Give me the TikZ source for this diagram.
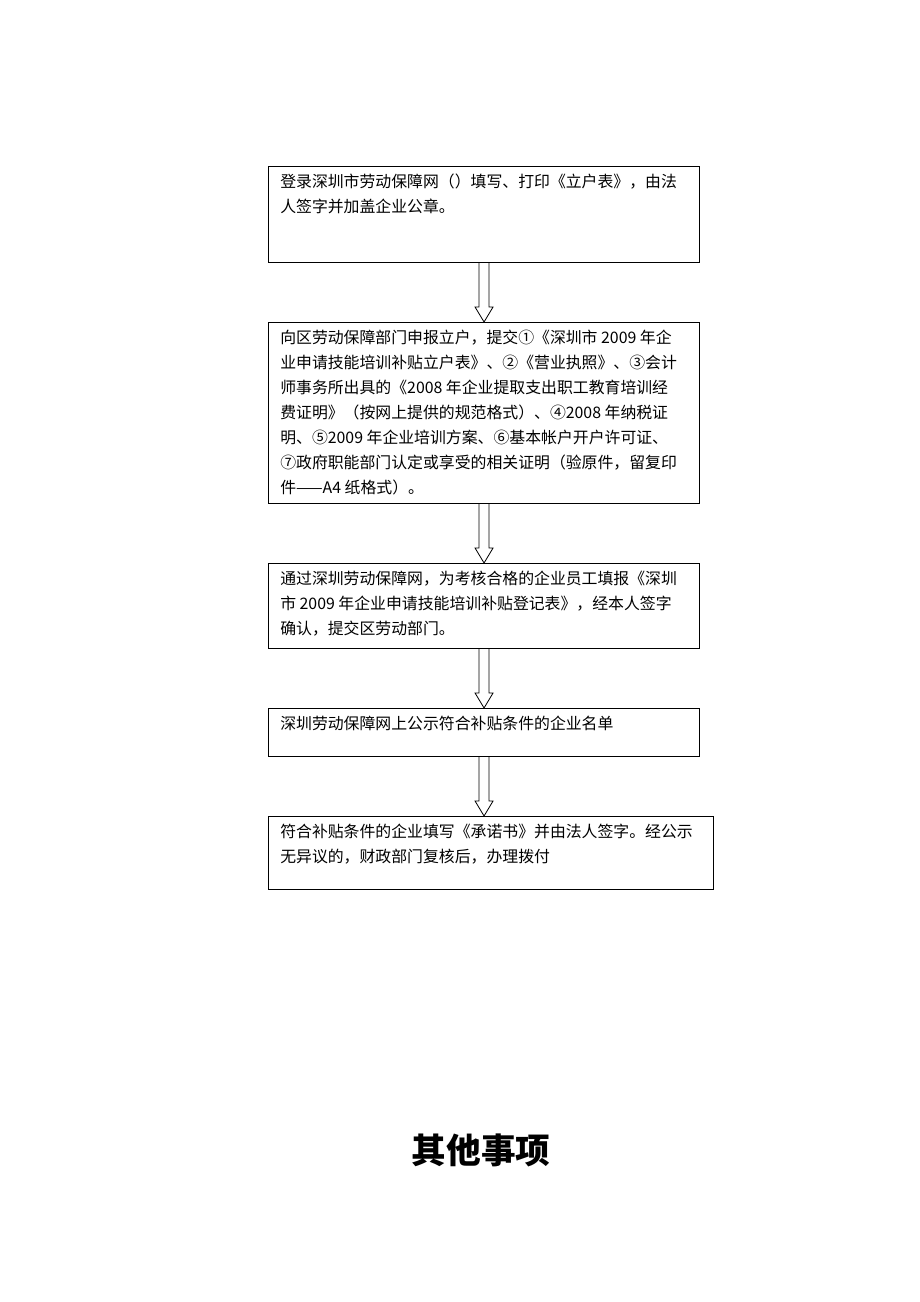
\documentclass[tikz,border=0pt]{standalone}
\usepackage{fontspec}
\newfontfamily\cjk{Noto Sans CJK SC}
\usetikzlibrary{positioning,calc}
\tikzset{
  box/.style={draw, line width=0.8pt, inner sep=0pt, anchor=north west},
  txt/.style={anchor=north west, inner sep=0pt, align=left,
    font=\cjk\fontsize{11.9pt}{18.75pt}\selectfont},
  hollow/.style={draw, line width=0.6pt, fill=white}
}
% hollow arrow from the lower edge of #1 to the upper edge of #2
\newcommand{\hollowarrow}[2]{%
  \draw[hollow] ($(#1.south)+(-5,0)$) -- ($(#1.south |- #2.north)+(-5,-15)$)
    -- ($(#1.south |- #2.north)+(-9,-15)$) -- (#1.south |- #2.north)
    -- ($(#1.south |- #2.north)+(9,-15)$) -- ($(#1.south |- #2.north)+(5,-15)$)
    -- ($(#1.south)+(5,0)$);}
\begin{document}
\begin{tikzpicture}[x=0.75pt,y=-0.75pt]
\useasboundingbox (0,0) rectangle (920,1302);

\node[box, minimum width=323.25pt, minimum height=72pt] (b1) at (268,166) {};
\node[box, minimum width=323.25pt, minimum height=135.75pt] (b2) at (268,322) {};
\node[box, minimum width=323.25pt, minimum height=63.75pt] (b3) at (268,563) {};
\node[box, minimum width=323.25pt, minimum height=36pt] (b4) at (268,708) {};
\node[box, minimum width=333.75pt, minimum height=54.75pt] (b5) at (268,816) {};

\node[txt] (t1) at (280,174) {登录深圳市劳动保障网（）填写、打印《立户表》，由法\\人签字并加盖企业公章。};
\node[txt] (t2) at (280,330) {向区劳动保障部门申报立户，提交①《深圳市 2009 年企\\
业申请技能培训补贴立户表》、②《营业执照》、③会计\\
师事务所出具的《2008 年企业提取支出职工教育培训经\\
费证明》（按网上提供的规范格式）、④2008 年纳税证\\
明、⑤2009 年企业培训方案、⑥基本帐户开户许可证、\\
⑦政府职能部门认定或享受的相关证明（验原件，留复印\\
件——A4 纸格式）。};
\node[txt] (t3) at (280,571) {通过深圳劳动保障网，为考核合格的企业员工填报《深圳\\市 2009 年企业申请技能培训补贴登记表》，经本人签字\\确认，提交区劳动部门。};
\node[txt] (t4) at (280,716) {深圳劳动保障网上公示符合补贴条件的企业名单};
\node[txt] (t5) at (280,824) {符合补贴条件的企业填写《承诺书》并由法人签字。经公示\\无异议的，财政部门复核后，办理拨付};

\hollowarrow{b1}{b2}
\hollowarrow{b2}{b3}
\hollowarrow{b3}{b4}
\hollowarrow{b4}{b5}

\node[font=\cjk\bfseries\fontsize{26pt}{30pt}\selectfont] (title) at (481,1150) {其他事项};
\end{tikzpicture}
\end{document}
